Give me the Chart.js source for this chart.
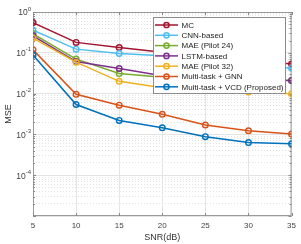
<!DOCTYPE html>
<html>
<head>
<meta charset="utf-8">
<script src="https://cdn.jsdelivr.net/npm/chart.js@4"></script>
<style>
  html, body { margin: 0; padding: 0; background: #fff; }
  #wrap { width: 301px; height: 244px; }
</style>
</head>
<body>
<div id="wrap"><canvas id="chart" width="301" height="244"></canvas></div>
<script>
const snr = [5, 10, 15, 20, 25, 30, 35];
const seriesNames = ['MC', 'CNN-based', 'MAE (Pilot 24)', 'LSTM-based', 'MAE (Pilot 32)', 'Multi-task + GNN', 'Multi-task + VCD (Proposed)'];
const mc = [0.55, 0.18, 0.135, 0.103, 0.085, 0.068, 0.053];
const cnn = [0.36, 0.123, 0.096, 0.085, 0.07, 0.055, 0.042];
const mae24 = [0.29, 0.07, 0.031, 0.025, 0.023, 0.022, 0.021];
const lstm = [0.26, 0.061, 0.041, 0.0275, 0.024, 0.022, 0.021];
const mae32 = [0.23, 0.059, 0.020, 0.014, 0.012, 0.011, 0.0099];
const gnn = [0.118, 0.0096, 0.0052, 0.0031, 0.0017, 0.00123, 0.00102];
const vcd = [0.088, 0.0054, 0.0022, 0.00145, 0.00088, 0.00063, 0.00059];
const colors = ['#A2142F', '#4DBEEE', '#77AC30', '#7E2F8E', '#EDB120', '#D95319', '#0072BD'];
const xTicks = [5, 10, 15, 20, 25, 30, 35];
const yExponents = [0, -1, -2, -3, -4];

const allSeries = [mc, cnn, mae24, lstm, mae32, gnn, vcd];
const font = 'Liberation Sans, Arial, sans-serif';

function isDecade(v) {
    const l = Math.log10(v);
    return Math.abs(l - Math.round(l)) < 1e-9;
}

const boxAndLabels = {
    id: 'boxAndLabels',
    beforeDatasetsDraw(chart) {
        const ctx = chart.ctx;
        const a = chart.chartArea;
        const x = chart.scales.x;
        const y = chart.scales.y;
        ctx.save();
        ctx.strokeStyle = '#9a9a9a';
        ctx.lineWidth = 1;
        ctx.strokeRect(a.left + 0.5, a.top + 0.5, a.right - a.left - 1, a.bottom - a.top - 1);
        // inward tick marks
        ctx.strokeStyle = '#888';
        ctx.beginPath();
        y.ticks.forEach(t => {
            const py = Math.round(y.getPixelForValue(t.value)) + 0.5;
            const len = isDecade(t.value) ? 3 : 2;
            ctx.moveTo(a.left, py); ctx.lineTo(a.left + len, py);
            ctx.moveTo(a.right, py); ctx.lineTo(a.right - len, py);
        });
        x.ticks.forEach(t => {
            const px = Math.round(x.getPixelForValue(t.value)) + 0.5;
            ctx.moveTo(px, a.bottom); ctx.lineTo(px, a.bottom - 3);
            ctx.moveTo(px, a.top); ctx.lineTo(px, a.top + 3);
        });
        ctx.stroke();
        ctx.restore();
    },
    afterDraw(chart) {
        const ctx = chart.ctx;
        const a = chart.chartArea;
        const y = chart.scales.y;
        ctx.save();
        // y tick labels with exponent
        ctx.fillStyle = '#444';
        ctx.textBaseline = 'middle';
        yExponents.forEach(e => {
            const py = y.getPixelForValue(Math.pow(10, e));
            const exp = String(e);
            ctx.font = '6px ' + font;
            const ew = ctx.measureText(exp).width;
            ctx.textAlign = 'left';
            ctx.fillText(exp, a.left - 2 - ew, py - 3);
            ctx.font = '8.5px ' + font;
            ctx.textAlign = 'right';
            ctx.fillText('10', a.left - 2 - ew, py + 1);
        });
        // legend
        const lx = 153, ly = 17, lw = 132, lh = 76;
        ctx.fillStyle = '#fff';
        ctx.fillRect(lx, ly, lw, lh);
        ctx.strokeStyle = '#8c8c8c';
        ctx.lineWidth = 1;
        ctx.strokeRect(lx + 0.5, ly + 0.5, lw, lh);
        ctx.font = '8px ' + font;
        ctx.textAlign = 'left';
        chart.data.datasets.forEach((ds, i) => {
            const ey = ly + 8 + i * 10.3;
            ctx.strokeStyle = ds.borderColor;
            ctx.lineWidth = 1.5;
            ctx.beginPath();
            ctx.moveTo(lx + 2, ey);
            ctx.lineTo(lx + 25, ey);
            ctx.stroke();
            ctx.beginPath();
            ctx.arc(lx + 13.5, ey, 2.6, 0, Math.PI * 2);
            ctx.stroke();
            ctx.fillStyle = '#222';
            ctx.fillText(ds.label, lx + 28.5, ey + 0.5);
        });
        ctx.restore();
    }
};

new Chart(document.getElementById('chart'), {
    type: 'line',
    data: {
        labels: snr,
        datasets: allSeries.map((s, i) => ({
            label: seriesNames[i],
            data: s.map((v, j) => ({ x: snr[j], y: v })),
            borderColor: colors[i],
            backgroundColor: colors[i],
            borderWidth: 1.5,
            pointRadius: 2.8,
            pointBorderWidth: 1.4,
            pointBackgroundColor: 'rgba(0,0,0,0)',
            pointBorderColor: colors[i],
            tension: 0,
            order: allSeries.length - i
        }))
    },
    options: {
        responsive: false,
        animation: false,
        layout: { padding: { left: 0, right: 9, top: 12, bottom: 0 } },
        plugins: { legend: { display: false }, tooltip: { enabled: false } },
        scales: {
            x: {
                type: 'linear',
                min: 5,
                max: 35,
                afterBuildTicks: scale => {
                    scale.ticks = xTicks.map(v => ({ value: v }));
                },
                afterFit: scale => { scale.height = 28; },
                grid: {
                    drawTicks: false,
                    color: '#e4e4e4',
                    lineWidth: 1
                },
                border: { display: false },
                ticks: {
                    autoSkip: false,
                    maxRotation: 0,
                    padding: 5,
                    color: '#444',
                    font: { family: font, size: 8 }
                },
                title: {
                    display: true,
                    text: 'SNR(dB)',
                    color: '#333',
                    font: { family: font, size: 9 },
                    padding: { top: 0, bottom: 1 }
                }
            },
            y: {
                type: 'logarithmic',
                min: 1e-5,
                max: 1,
                afterBuildTicks: scale => {
                    const t = [];
                    for (let e = -5; e < 0; e++) {
                        for (let m = 1; m < 10; m++) t.push({ value: m * Math.pow(10, e) });
                    }
                    t.push({ value: 1 });
                    scale.ticks = t;
                },
                afterFit: scale => { scale.width = 33; },
                grid: {
                    drawTicks: false,
                    color: ctx => ctx.tick && isDecade(ctx.tick.value) ? '#e4e4e4' : '#e2e2e2',
                    lineWidth: 1
                },
                border: {
                    display: false,
                    dash: ctx => ctx.tick && isDecade(ctx.tick.value) ? [] : [1, 2]
                },
                ticks: {
                    autoSkip: false,
                    display: false
                },
                title: {
                    display: true,
                    text: 'MSE',
                    color: '#333',
                    font: { family: font, size: 9 },
                    padding: { top: 3, bottom: 0 }
                }
            }
        }
    },
    plugins: [boxAndLabels]
});
</script>
</body>
</html>
